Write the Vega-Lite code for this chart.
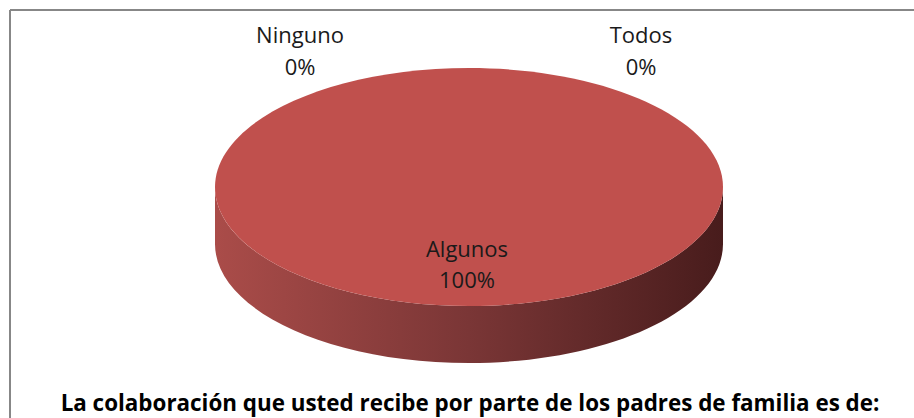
{
  "$schema": "https://vega.github.io/schema/vega-lite/v6.json",
  "width": 904,
  "height": 408,
  "autosize": "none",
  "padding": {"left": 10, "top": 10, "right": 0, "bottom": 0},
  "background": "white",
  "config": {"view": {"stroke": null}},
  "data": {
    "values": [
      {"respuesta": "Ninguno", "porcentaje": 0},
      {"respuesta": "Algunos", "porcentaje": 100},
      {"respuesta": "Todos", "porcentaje": 0}
    ]
  },
  "layer": [
    {
      "data": {"values": [{"borde": "marco"}]},
      "layer": [
        {
          "mark": {"type": "rule", "color": "#878787", "strokeWidth": 2},
          "encoding": {
            "x": {"datum": 0, "type": "quantitative", "scale": {"domain": [0, 904], "nice": false, "zero": false}, "axis": null},
            "x2": {"datum": 904},
            "y": {"datum": 0, "type": "quantitative", "scale": {"domain": [0, 408], "nice": false, "zero": false, "reverse": true}, "axis": null}
          }
        },
        {
          "mark": {"type": "rule", "color": "#878787", "strokeWidth": 2},
          "encoding": {
            "x": {"datum": 0, "type": "quantitative"},
            "y": {"datum": 0, "type": "quantitative"},
            "y2": {"datum": 408}
          }
        }
      ]
    },
    {
      "transform": [{"filter": "datum.porcentaje > 0"}],
      "mark": {
        "type": "point",
        "shape": "M-1,0A1,0.4685,0,0,0,1,0L1,0.2244A1,0.4685,0,0,1,-1,0.2244Z",
        "size": 258064,
        "filled": true,
        "opacity": 1,
        "strokeWidth": 0,
        "color": {
          "gradient": "linear",
          "x1": 0, "y1": 0, "x2": 1, "y2": 0,
          "stops": [
            {"offset": 0, "color": "#aa4c49"},
            {"offset": 0.5, "color": "#7a3636"},
            {"offset": 1, "color": "#481c1c"}
          ]
        }
      },
      "encoding": {
        "x": {"datum": 459, "type": "quantitative"},
        "y": {"datum": 177, "type": "quantitative"}
      }
    },
    {
      "transform": [{"filter": "datum.porcentaje > 0"}],
      "mark": {
        "type": "point",
        "shape": "M-1,0A1,0.4685,0,1,1,1,0A1,0.4685,0,1,1,-1,0Z",
        "size": 258064,
        "filled": true,
        "opacity": 1,
        "strokeWidth": 0,
        "color": "#c0504d"
      },
      "encoding": {
        "x": {"datum": 459, "type": "quantitative"},
        "y": {"datum": 177, "type": "quantitative"}
      }
    },
    {
      "transform": [
        {"calculate": "datum.respuesta + '\\n' + datum.porcentaje + '%'", "as": "etiqueta"}
      ],
      "layer": [
        {
          "transform": [{"filter": "datum.respuesta === 'Ninguno'"}],
          "mark": {"type": "text", "font": "Open Sans", "fontSize": 22, "lineBreak": "\n", "lineHeight": 32, "baseline": "alphabetic", "align": "center", "color": "#1a1a1a"},
          "encoding": {
            "x": {"datum": 290, "type": "quantitative"},
            "y": {"datum": 33, "type": "quantitative"},
            "text": {"field": "etiqueta"}
          }
        },
        {
          "transform": [{"filter": "datum.respuesta === 'Todos'"}],
          "mark": {"type": "text", "font": "Open Sans", "fontSize": 22, "lineBreak": "\n", "lineHeight": 32, "baseline": "alphabetic", "align": "center", "color": "#1a1a1a"},
          "encoding": {
            "x": {"datum": 631, "type": "quantitative"},
            "y": {"datum": 33, "type": "quantitative"},
            "text": {"field": "etiqueta"}
          }
        },
        {
          "transform": [{"filter": "datum.respuesta === 'Algunos'"}],
          "mark": {"type": "text", "font": "Open Sans", "fontSize": 22, "lineBreak": "\n", "lineHeight": 31, "baseline": "alphabetic", "align": "center", "color": "#1a1a1a"},
          "encoding": {
            "x": {"datum": 457, "type": "quantitative"},
            "y": {"datum": 247, "type": "quantitative"},
            "text": {"field": "etiqueta"}
          }
        }
      ]
    },
    {
      "data": {"values": [{"titulo": "La colaboración que usted recibe por parte de los padres de familia es de:"}]},
      "mark": {"type": "text", "font": "Open Sans", "fontSize": 22.4, "fontWeight": "bold", "baseline": "alphabetic", "align": "center", "color": "#000000"},
      "encoding": {
        "x": {"datum": 460, "type": "quantitative"},
        "y": {"datum": 401, "type": "quantitative"},
        "text": {"field": "titulo"}
      }
    }
  ]
}
